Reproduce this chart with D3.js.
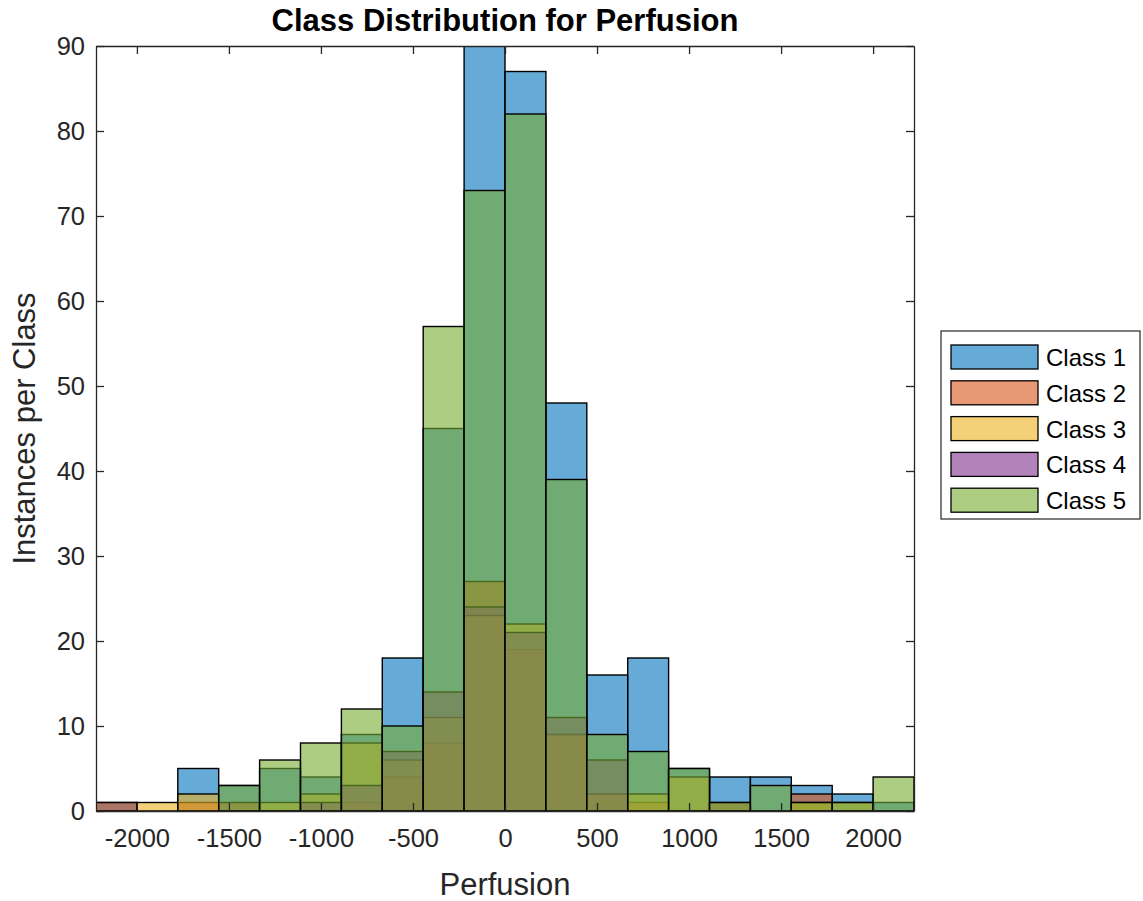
<!DOCTYPE html>
<meta charset="utf-8">
<style>
body { margin: 0; background: #fff; }
text { font-family: "Liberation Sans", Arial, Helvetica, sans-serif; fill: #262626; }
.axis path, .axis line { stroke: #262626; }
</style>
<body>
<script src="https://cdn.jsdelivr.net/npm/d3@7"></script>
<script>

// left edges of the 20 bins, all the same width
var binLeft = [-2222.2, -2000, -1777.8, -1555.6, -1333.3, -1111.1, -888.9, -666.7, -444.4, -222.2,
               0, 222.2, 444.4, 666.7, 888.9, 1111.1, 1333.3, 1555.6, 1777.8, 2000];
var binWidth = 222.2;

var class1 = [1, 0, 5, 3, 5, 4, 9, 18, 45, 90, 87, 48, 16, 18, 5, 4, 4, 3, 2, 1];
var class2 = [1, 0, 1, 1, 0, 0, 1, 4, 8, 27, 19, 9, 2, 1, 0, 1, 0, 2, 0, 0];
var class3 = [0, 1, 2, 0, 1, 2, 8, 6, 11, 23, 22, 9, 2, 2, 4, 0, 0, 1, 1, 0];
var class4 = [0, 0, 0, 0, 0, 1, 3, 7, 14, 24, 21, 11, 6, 0, 0, 0, 0, 0, 0, 0];
var class5 = [0, 0, 0, 3, 6, 8, 12, 10, 57, 73, 82, 39, 9, 7, 5, 1, 3, 1, 1, 4];

var classNames = ["Class 1", "Class 2", "Class 3", "Class 4", "Class 5"];
var classColors = ["#0072BD", "#D95319", "#EDB120", "#7E2F8E", "#77AC30"];
var xTicks = [-2000, -1500, -1000, -500, 0, 500, 1000, 1500, 2000];
var yTicks = [0, 10, 20, 30, 40, 50, 60, 70, 80, 90];

var series = [class1, class2, class3, class4, class5];

var W = 1143, H = 901;
var margin = {top: 46, right: 229, bottom: 90, left: 96},
    width = W - margin.left - margin.right,
    height = H - margin.top - margin.bottom;

var svg = d3.select("body").append("svg")
    .attr("width", W)
    .attr("height", H);

var g = svg.append("g")
    .attr("transform", "translate(" + margin.left + "," + margin.top + ")");

var x = d3.scaleLinear()
    .domain([binLeft[0], binLeft[binLeft.length - 1] + binWidth])
    .range([0, width]);

var y = d3.scaleLinear()
    .domain([0, 90])
    .range([height, 0]);

g.append("clipPath").attr("id", "clip")
  .append("rect").attr("width", width).attr("height", height);

var bars = g.append("g").attr("clip-path", "url(#clip)");

series.forEach(function(vals, k) {
  bars.append("g")
    .selectAll("rect")
      .data(vals.map(function(v, i) { return {x0: binLeft[i], v: v}; })
                .filter(function(d) { return d.v > 0; }))
    .enter().append("rect")
      .attr("x", function(d) { return x(d.x0); })
      .attr("y", function(d) { return y(d.v); })
      .attr("width", function(d) { return x(d.x0 + binWidth) - x(d.x0); })
      .attr("height", function(d) { return y(0) - y(d.v); })
      .style("fill", classColors[k])
      .style("fill-opacity", 0.6)
      .style("stroke", "#000")
      .style("stroke-width", 1.4);
});

// axes, ticks inside on all four sides
var fs = "25.5px";
var plain = function(d) { return String(d); };

var xAxis = g.append("g").attr("class", "axis")
    .attr("transform", "translate(0," + height + ")")
    .call(d3.axisBottom(x).tickValues(xTicks).tickFormat(plain).tickSize(-8).tickPadding(18).tickSizeOuter(0));
xAxis.selectAll("text").style("font-size", fs);

g.append("g").attr("class", "axis")
    .call(d3.axisTop(x).tickValues(xTicks).tickSize(-8).tickFormat("").tickSizeOuter(0));

var yAxis = g.append("g").attr("class", "axis")
    .call(d3.axisLeft(y).tickValues(yTicks).tickFormat(plain).tickSize(-8).tickPadding(11).tickSizeOuter(0));
yAxis.selectAll("text").style("font-size", fs);

g.append("g").attr("class", "axis")
    .attr("transform", "translate(" + width + ",0)")
    .call(d3.axisRight(y).tickValues(yTicks).tickSize(-8).tickFormat("").tickSizeOuter(0));

g.selectAll(".axis path").style("stroke-width", 1.3);
g.selectAll(".axis line").style("stroke-width", 1.3);

// title and labels
svg.append("text")
    .attr("x", margin.left + width / 2)
    .attr("y", 31)
    .attr("text-anchor", "middle")
    .style("font-size", "31px")
    .style("font-weight", "bold")
    .style("fill", "#000")
    .text("Class Distribution for Perfusion");

svg.append("text")
    .attr("x", margin.left + width / 2)
    .attr("y", 895)
    .attr("text-anchor", "middle")
    .style("font-size", "31px")
    .text("Perfusion");

svg.append("text")
    .attr("transform", "translate(35," + (margin.top + height / 2) + ") rotate(-90)")
    .attr("text-anchor", "middle")
    .style("font-size", "31px")
    .text("Instances per Class");

// legend
var lg = svg.append("g").attr("transform", "translate(941,331)");
lg.append("rect")
    .attr("width", 199).attr("height", 188)
    .style("fill", "#fff").style("stroke", "#262626").style("stroke-width", 1.2);

classNames.forEach(function(name, k) {
  var row = lg.append("g").attr("transform", "translate(0," + (14 + k * 35.8) + ")");
  row.append("rect")
      .attr("x", 10).attr("width", 87).attr("height", 24)
      .style("fill", classColors[k]).style("fill-opacity", 0.6)
      .style("stroke", "#000").style("stroke-width", 1.3);
  row.append("text")
      .attr("x", 105).attr("y", 21)
      .style("font-size", "24px")
      .style("fill", "#000")
      .text(name);
});

</script>
</body>
